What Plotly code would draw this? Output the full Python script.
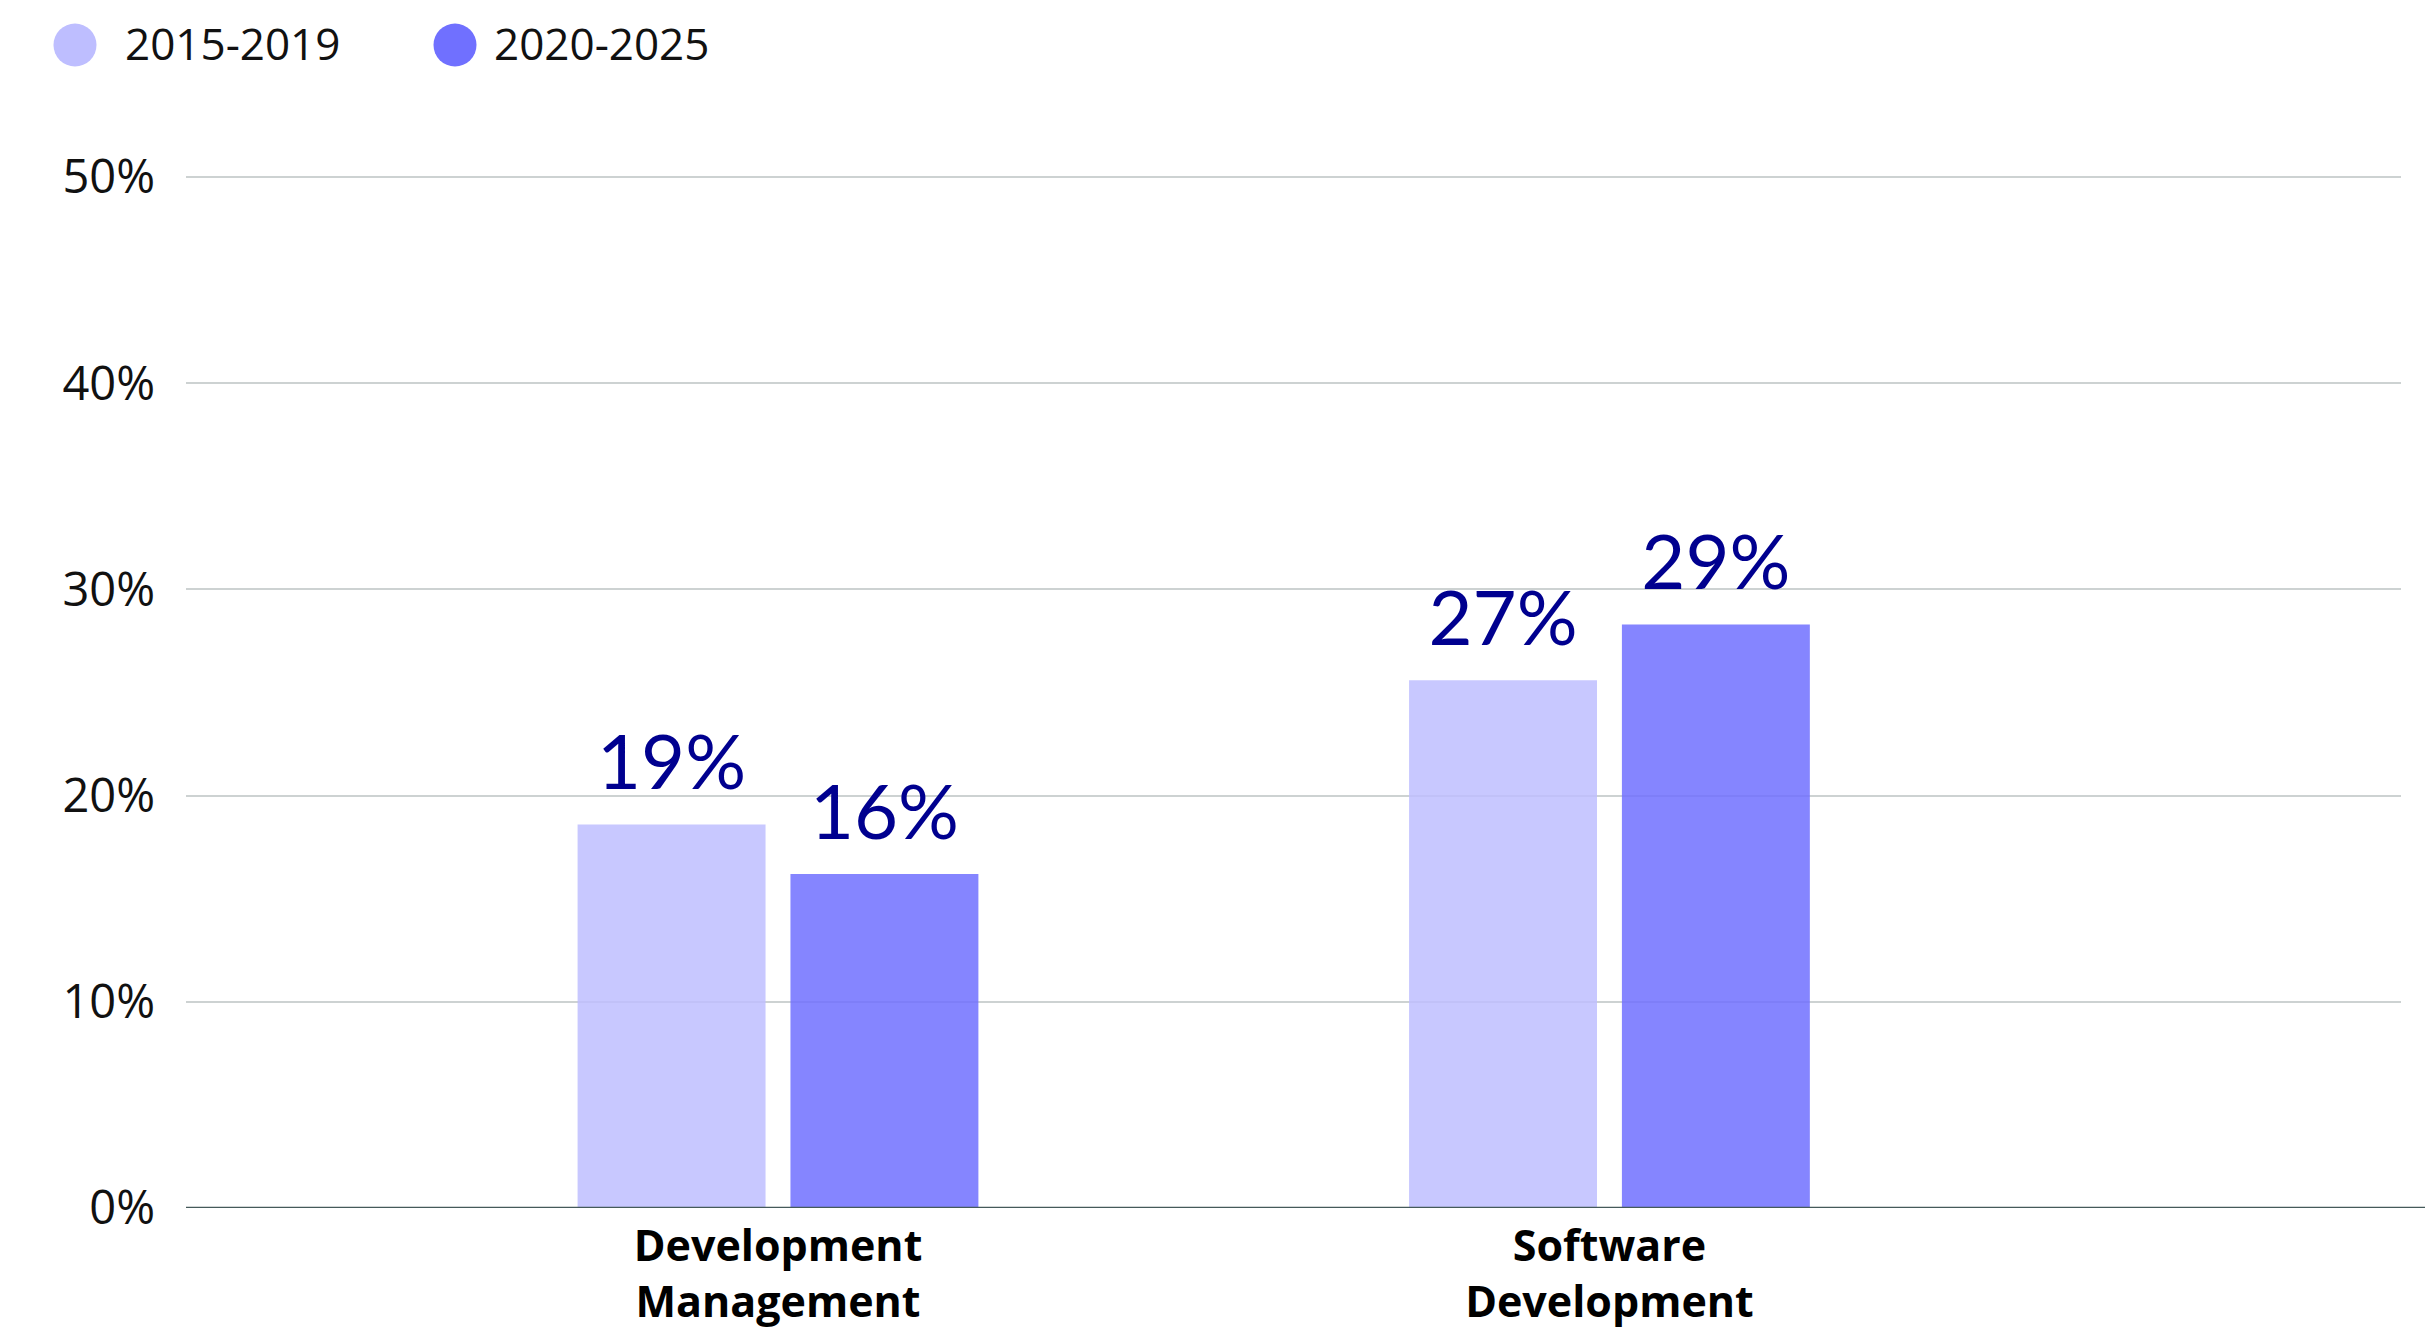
import plotly.graph_objects as go

# ---- data ----
categories = ["Development<br>Management", "Software<br>Development"]
series_names = ["2015-2019", "2020-2025"]
values_2015_2019 = [18.6, 25.6]
values_2020_2025 = [16.2, 28.3]
labels_2015_2019 = ["19%", "27%"]
labels_2020_2025 = ["16%", "29%"]
y_ticks = [0, 10, 20, 30, 40, 50]
y_tick_labels = ["0%", "10%", "20%", "30%", "40%", "50%"]

colors = ["#BEBEFF", "#7070FF"]
label_color = "#00008F"

W, H = 2434, 1332
ML, MR, MT, MB = 186, 33, 171, 124
PW = W - ML - MR
PH = H - MT - MB
BARGAP = 0.488
Y_TOP = 50 + 6 / 20.62

fig = go.Figure()
series = [
    (series_names[0], values_2015_2019, labels_2015_2019, colors[0]),
    (series_names[1], values_2020_2025, labels_2020_2025, colors[1]),
]
for i, (name, vals, labs, col) in enumerate(series):
    fig.add_trace(go.Bar(
        x=categories, y=vals, name=name,
        marker=dict(color=col, opacity=0.85, line=dict(width=0)),
        offsetgroup=str(i),
        showlegend=False, hoverinfo="skip",
    ))
for i, (name, vals, labs, col) in enumerate(series):
    fig.add_trace(go.Scatter(
        x=categories, y=vals, mode="markers+text",
        marker=dict(size=24, opacity=0),
        text=labs, textposition="top center",
        textfont=dict(family="Lato", size=76, color=label_color),
        offsetgroup=str(i), cliponaxis=False,
        showlegend=False, hoverinfo="skip",
    ))

fig.update_layout(
    width=W, height=H,
    margin=dict(l=ML, r=MR, t=MT, b=MB, pad=0, autoexpand=False),
    paper_bgcolor="white", plot_bgcolor="white",
    barmode="group", bargap=BARGAP, bargroupgap=0.117,
    scattermode="group", scattergap=BARGAP,
    showlegend=False,
    font=dict(family="Open Sans", color="#111111"),
)
fig.update_xaxes(
    range=[-0.712, 1.952], showgrid=False, zeroline=False, showline=False,
    ticks="", automargin=False,
    tickfont=dict(family="Open Sans", size=43, color="#000000", weight=700),
    ticklabelstandoff=9,
)
fig.update_yaxes(
    range=[0, Y_TOP], tickvals=y_ticks, ticktext=y_tick_labels,
    showgrid=True, gridcolor="#CDD2D2", gridwidth=1.5,
    zeroline=False, showline=False, ticks="", automargin=False,
    tickfont=dict(family="Open Sans", size=47, color="#111111"),
    ticklabelstandoff=30,
)

# x-axis baseline extending slightly past the plot area
fig.add_shape(type="line", xref="paper", yref="y", x0=0, x1=(2425 - ML) / PW,
              y0=0, y1=0, line=dict(color="#455A5A", width=2.5), layer="above")

# custom legend with large circular markers
def px_to_paper_x(px):
    return (px - ML) / PW

def py_to_paper_y(py):
    return (H - MB - py) / PH

legend_items = [(75, 123), (455, 492)]
for (cx, tx), name, col in zip(legend_items, series_names, colors):
    fig.add_shape(type="circle", xref="paper", yref="paper",
                  xsizemode="pixel", ysizemode="pixel",
                  xanchor=px_to_paper_x(cx), yanchor=py_to_paper_y(45),
                  x0=-21.5, x1=21.5, y0=-21.5, y1=21.5,
                  fillcolor=col, line=dict(width=0))
    fig.add_annotation(x=px_to_paper_x(tx), y=py_to_paper_y(43), xref="paper", yref="paper",
                       text=name, showarrow=False, xanchor="left", yanchor="middle",
                       font=dict(family="Open Sans", size=44, color="#111111"))

fig.write_html("out.html")
